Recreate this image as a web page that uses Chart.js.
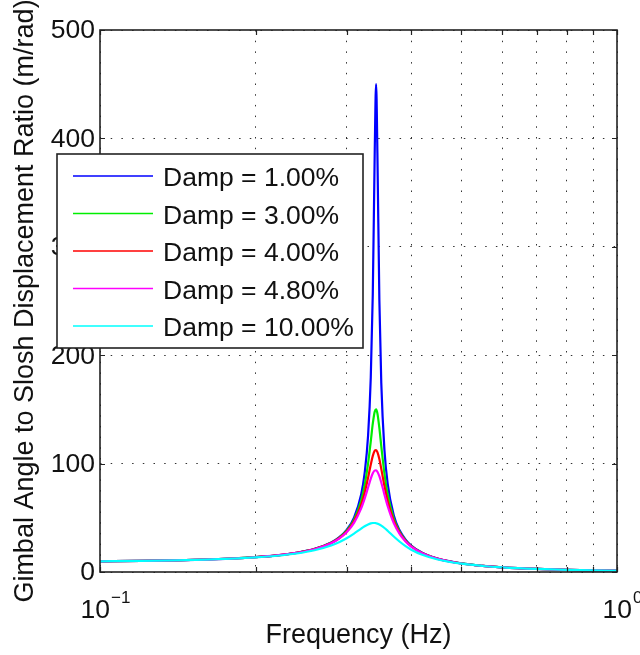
<!DOCTYPE html>
<html>
<head>
<meta charset="utf-8">
<script src="https://cdn.jsdelivr.net/npm/chart.js@4.4.0/dist/chart.umd.min.js"></script>
<style>
html, body { margin: 0; padding: 0; background: #fff; }
#wrap { width: 640px; height: 655px; }
</style>
</head>
<body>
<div id="wrap"><canvas id="c" width="640" height="655"></canvas></div>
<script>
// ---- data ----
const freq = [0.1, 0.12, 0.14, 0.16, 0.18, 0.2, 0.22, 0.24, 0.26, 0.28, 0.29, 0.30, 0.31, 0.32, 0.325, 0.33, 0.334, 0.337, 0.34, 0.342, 0.344, 0.347, 0.35, 0.355, 0.36, 0.37, 0.38, 0.39, 0.40, 0.42, 0.45, 0.5, 0.55, 0.6, 0.7, 0.8, 0.9, 1.0];
const damp1 = [9.84, 10.26, 10.81, 11.52, 12.45, 13.68, 15.35, 17.73, 21.31, 27.26, 31.98, 38.93, 50.19, 71.49, 91.2, 125.7, 179.6, 256.4, 390.6, 450, 386.6, 251.4, 174.4, 112.2, 81.8, 52.4, 38.2, 29.9, 24.4, 17.7, 12.3, 7.91, 5.67, 4.33, 2.82, 2.01, 1.52, 1.19];
const damp3 = [9.84, 10.26, 10.81, 11.52, 12.44, 13.66, 15.32, 17.67, 21.20, 27.00, 31.52, 38.07, 48.26, 65.89, 80.07, 100.0, 120.6, 136.8, 148.0, 150.0, 146.3, 132.9, 116.1, 90.5, 71.9, 49.3, 36.9, 29.2, 24.0, 17.5, 12.24, 7.89, 5.66, 4.33, 2.82, 2.01, 1.52, 1.19];
const damp4 = [9.84, 10.26, 10.81, 11.51, 12.43, 13.64, 15.30, 17.63, 21.11, 26.78, 31.14, 37.36, 46.73, 61.94, 73.05, 86.96, 99.1, 107.1, 111.9, 112.5, 110.6, 104.2, 95.1, 79.2, 65.7, 47.1, 35.9, 28.7, 23.7, 17.4, 12.18, 7.87, 5.65, 4.32, 2.82, 2.01, 1.52, 1.19];
const damp48 = [9.84, 10.26, 10.80, 11.50, 12.42, 13.63, 15.27, 17.58, 21.01, 26.55, 30.77, 36.67, 45.34, 58.63, 67.62, 77.92, 86.1, 91.0, 93.65, 93.75, 92.5, 88.4, 82.6, 71.3, 60.9, 45.1, 34.9, 28.1, 23.4, 17.25, 12.13, 7.85, 5.65, 4.32, 2.82, 2.01, 1.52, 1.19];
const damp10 = [9.82, 10.23, 10.76, 11.44, 12.32, 13.47, 15.00, 17.09, 20.06, 24.45, 27.43, 31.07, 35.38, 40.05, 42.17, 43.92, 44.84, 45.18, 45.2, 45.0, 44.66, 43.9, 42.84, 40.6, 38.04, 32.7, 27.9, 23.9, 20.6, 15.9, 11.58, 7.66, 5.56, 4.27, 2.80, 2.00, 1.51, 1.19];
const seriesLabels = ['Damp = 1.00%', 'Damp = 3.00%', 'Damp = 4.00%', 'Damp = 4.80%', 'Damp = 10.00%'];
const seriesValues = [damp1, damp3, damp4, damp48, damp10];
const seriesColors = ['#0000ff', '#00ee00', '#ff0000', '#ff00ff', '#00ffff'];
const yTicks = [0, 100, 200, 300, 400, 500];
const xGrid = [0.1, 0.2, 0.3, 0.4, 0.5, 0.6, 0.7, 0.8, 0.9, 1.0];
const xTickLabels = [{ value: 0.1, base: '10', exp: '\u22121' }, { value: 1.0, base: '10', exp: '0' }];
const xTitle = 'Frequency (Hz)';
const yTitle = 'Gimbal Angle to Slosh Displacement Ratio (m/rad)';

const FONT = '"Liberation Sans", Arial, Helvetica, sans-serif';
const FS = '26.5px ';

const datasets = seriesValues.map((vals, i) => ({
  label: seriesLabels[i],
  data: freq.map((f, k) => ({ x: f, y: vals[k] })),
  borderColor: seriesColors[i],
  backgroundColor: seriesColors[i],
  borderWidth: 2.2,
  pointRadius: 0,
  fill: false,
  cubicInterpolationMode: 'monotone',
  order: seriesValues.length - i
}));

const decor = {
  id: 'decor',
  afterDraw(chart) {
    const { ctx, chartArea: a, scales: { x, y } } = chart;
    ctx.save();
    // inward tick marks
    ctx.strokeStyle = '#222';
    ctx.lineWidth = 1.2;
    const tl = 5;
    ctx.beginPath();
    xGrid.forEach(v => {
      const px = Math.round(x.getPixelForValue(v)) + 0.5;
      ctx.moveTo(px, a.bottom); ctx.lineTo(px, a.bottom - tl);
      ctx.moveTo(px, a.top); ctx.lineTo(px, a.top + tl);
    });
    yTicks.forEach(v => {
      const py = Math.round(y.getPixelForValue(v)) + 0.5;
      ctx.moveTo(a.left, py); ctx.lineTo(a.left + tl, py);
      ctx.moveTo(a.right, py); ctx.lineTo(a.right - tl, py);
    });
    ctx.stroke();
    // box
    ctx.lineWidth = 1.6;
    ctx.strokeStyle = '#222';
    ctx.strokeRect(a.left, a.top, a.right - a.left, a.bottom - a.top);

    // y tick labels
    ctx.fillStyle = '#111';
    ctx.font = FS + FONT;
    ctx.textAlign = 'right';
    ctx.textBaseline = 'middle';
    yTicks.forEach(v => ctx.fillText(String(v), a.left - 5, y.getPixelForValue(v) + 1));

    // x tick labels with superscript
    ctx.textBaseline = 'alphabetic';
    ctx.textAlign = 'left';
    xTickLabels.forEach(t => {
      ctx.font = FS + FONT;
      const wb = ctx.measureText(t.base).width;
      ctx.font = '17px ' + FONT;
      const we = ctx.measureText(t.exp).width;
      const cx = x.getPixelForValue(t.value) + 5;
      const sx = cx - (wb + we) / 2;
      ctx.font = FS + FONT;
      ctx.fillText(t.base, sx, a.bottom + 46);
      ctx.font = '17px ' + FONT;
      ctx.fillText(t.exp, sx + wb + 1, a.bottom + 31);
    });

    // axis titles
    ctx.font = '27px ' + FONT;
    ctx.textAlign = 'center';
    ctx.fillText(xTitle, (a.left + a.right) / 2, a.bottom + 71);
    ctx.save();
    ctx.translate(a.left - 67, (a.top + a.bottom) / 2);
    ctx.rotate(-Math.PI / 2);
    ctx.fillText(yTitle, 0, 0);
    ctx.restore();

    // legend box
    const lx = a.left - 43, ly = a.top + 124, lw = 306, lh = 194;
    ctx.fillStyle = '#fff';
    ctx.fillRect(lx, ly, lw, lh);
    ctx.strokeStyle = '#222';
    ctx.lineWidth = 1.6;
    ctx.strokeRect(lx, ly, lw, lh);
    ctx.font = FS + FONT;
    ctx.textAlign = 'left';
    ctx.textBaseline = 'alphabetic';
    chart.data.datasets.forEach((ds, i) => {
      const ry = ly + 22 + i * 37.5;
      ctx.strokeStyle = ds.borderColor;
      ctx.lineWidth = 1.6;
      ctx.beginPath();
      ctx.moveTo(lx + 16, ry); ctx.lineTo(lx + 96, ry);
      ctx.stroke();
      ctx.fillStyle = '#111';
      ctx.fillText(ds.label, lx + 106, ry + 10);
    });
    ctx.restore();
  }
};

new Chart(document.getElementById('c'), {
  type: 'line',
  data: { datasets },
  options: {
    responsive: false,
    animation: false,
    devicePixelRatio: 1,
    layout: { padding: { left: 100, right: 23, top: 30, bottom: 83 } },
    plugins: { legend: { display: false }, tooltip: { enabled: false } },
    scales: {
      x: {
        type: 'logarithmic',
        min: 0.1, max: 1,
        afterBuildTicks: s => { s.ticks = xGrid.map(v => ({ value: v })); },
        ticks: { display: false },
        grid: { color: 'rgba(0,0,0,0.8)', lineWidth: 1, drawTicks: false },
        border: { display: false, dash: [1.5, 9.2] },
        title: { display: false }
      },
      y: {
        type: 'linear',
        min: 0, max: 500,
        afterBuildTicks: s => { s.ticks = yTicks.map(v => ({ value: v })); },
        ticks: { display: false },
        grid: { color: 'rgba(0,0,0,0.8)', lineWidth: 1, drawTicks: false },
        border: { display: false, dash: [1.5, 9.2] },
        title: { display: false }
      }
    }
  },
  plugins: [decor]
});
</script>
</body>
</html>
